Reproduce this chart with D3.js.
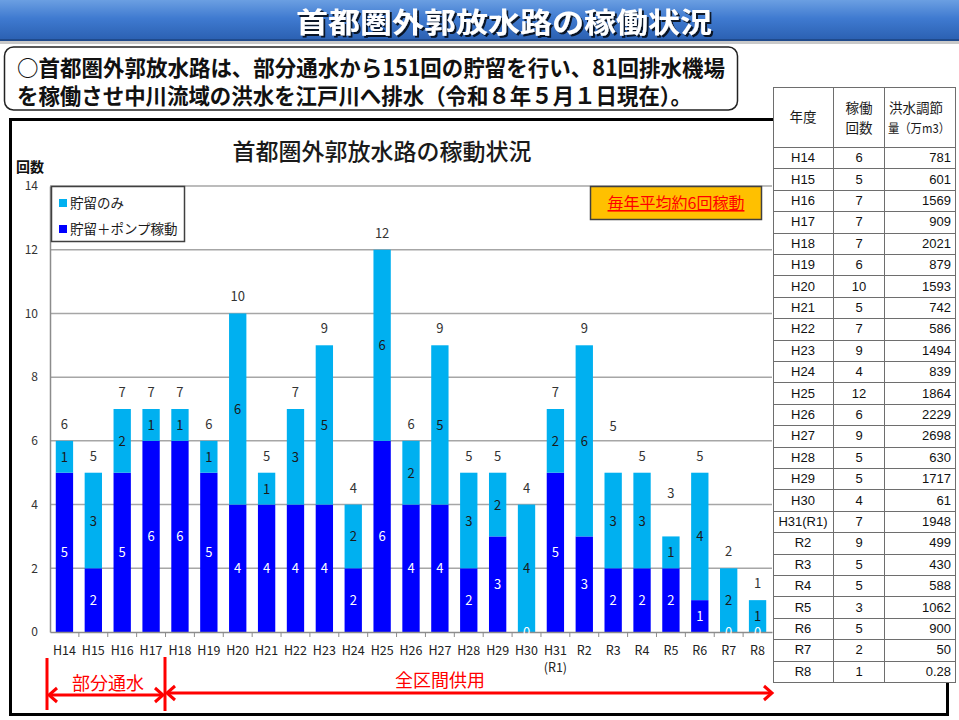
<!DOCTYPE html>
<html>
<head>
<meta charset="utf-8">
<script src="https://cdn.jsdelivr.net/npm/d3@7"></script>
<style>
  body { margin: 0; background: #fff; }
  svg { display: block; font-family: "Noto Sans CJK JP", "Noto Sans", sans-serif; }
</style>
</head>
<body>
<div id="chart"></div>
<script>
// years (x categories)
var years = ["H14", "H15", "H16", "H17", "H18", "H19", "H20", "H21", "H22", "H23", "H24", "H25",
  "H26", "H27", "H28", "H29", "H30", "H31(R1)", "R2", "R3", "R4", "R5", "R6", "R7", "R8"];
// 貯留＋ポンプ稼動
var pumpRuns = [5, 2, 5, 6, 6, 5, 4, 4, 4, 4, 2, 6, 4, 4, 2, 3, 0, 5, 3, 2, 2, 2, 1, 0, 0];
// 貯留のみ
var storageRuns = [1, 3, 2, 1, 1, 1, 6, 1, 3, 5, 2, 6, 2, 5, 3, 2, 4, 2, 6, 3, 3, 1, 4, 2, 1];
// 洪水調節量（万m3）
var floodVolume = ["781", "601", "1569", "909", "2021", "879", "1593", "742", "586", "1494", "839", "1864",
  "2229", "2698", "630", "1717", "61", "1948", "499", "430", "588", "1062", "900", "50", "0.28"];
var yTicks = [0, 2, 4, 6, 8, 10, 12, 14];

var W = 959, H = 720;
var lightBlue = "#00b0f0", darkBlue = "#0000ff", red = "#ff0000";

var svg = d3.select("#chart").append("svg")
  .attr("width", W).attr("height", H);

// ---- header bar
var defs = svg.append("defs");
var grad = defs.append("linearGradient").attr("id", "bar").attr("x1", 0).attr("y1", 0).attr("x2", 0).attr("y2", 1);
grad.append("stop").attr("offset", "0%").attr("stop-color", "#6b9fe2");
grad.append("stop").attr("offset", "45%").attr("stop-color", "#3f7ad0");
grad.append("stop").attr("offset", "100%").attr("stop-color", "#2a5fb0");
var shadow = defs.append("filter").attr("id", "shadow");
shadow.append("feDropShadow").attr("dx", 2).attr("dy", 2).attr("stdDeviation", 0.6)
  .attr("flood-color", "#000").attr("flood-opacity", 0.8);

svg.append("rect").attr("x", 0).attr("y", 38).attr("width", W).attr("height", 6).attr("fill", "#c9c9c9");
svg.append("rect").attr("x", 0).attr("y", 0).attr("width", W).attr("height", 41).attr("fill", "url(#bar)");
svg.append("rect").attr("x", 0).attr("y", 39).attr("width", W).attr("height", 2).attr("fill", "#1f4a8c");
svg.append("text").attr("x", 504).attr("y", 33)
  .attr("text-anchor", "middle").attr("fill", "#fff")
  .style("font-size", "28px").style("font-weight", 700)
  .attr("textLength", 416).attr("lengthAdjust", "spacingAndGlyphs")
  .attr("filter", "url(#shadow)")
  .text("首都圏外郭放水路の稼働状況");

// ---- summary box
svg.append("rect").attr("x", 4.5).attr("y", 47).attr("width", 733).attr("height", 63)
  .attr("rx", 9).attr("fill", "#fff").attr("stroke", "#222").attr("stroke-width", 1.5);
svg.append("text").attr("x", 17).attr("y", 76)
  .style("font-size", "22px").style("font-weight", 700).attr("fill", "#111")
  .attr("textLength", 708).attr("lengthAdjust", "spacingAndGlyphs")
  .text("○首都圏外郭放水路は、部分通水から151回の貯留を行い、81回排水機場");
svg.append("text").attr("x", 17).attr("y", 104)
  .style("font-size", "22px").style("font-weight", 700).attr("fill", "#111")
  .attr("textLength", 675).attr("lengthAdjust", "spacingAndGlyphs")
  .text("を稼働させ中川流域の洪水を江戸川へ排水（令和８年５月１日現在）。");

// ---- chart frame
svg.append("rect").attr("x", 10.5).attr("y", 119.5).attr("width", 937).attr("height", 595)
  .attr("fill", "#fff").attr("stroke", "#000").attr("stroke-width", 3);

svg.append("text").attr("x", 382).attr("y", 160).attr("text-anchor", "middle")
  .style("font-size", "23px").style("font-weight", 500).attr("fill", "#1a1a1a")
  .text("首都圏外郭放水路の稼動状況");
svg.append("text").attr("x", 16).attr("y", 172)
  .style("font-size", "14px").style("font-weight", 700).attr("fill", "#111")
  .text("回数");

var x = d3.scaleBand().domain(years).range([50, 772]).paddingInner(0.4).paddingOuter(0.2);
var y = d3.scaleLinear().domain([0, 14]).range([632, 186]);

var plot = svg.append("g");

// gridlines
plot.append("g").selectAll("line").data(yTicks.filter(function(d) { return d > 0; }))
  .enter().append("line")
  .attr("x1", 50).attr("x2", 772)
  .attr("y1", function(d) { return y(d); }).attr("y2", function(d) { return y(d); })
  .attr("stroke", "#a6a6a6").attr("stroke-width", 1.5);

// y axis
var yAxis = plot.append("g").attr("transform", "translate(50,0)")
  .call(d3.axisLeft(y).tickValues(yTicks).tickSize(0).tickPadding(12));
yAxis.select(".domain").attr("stroke", "#8c8c8c").attr("stroke-width", 1.5);
yAxis.selectAll("text").style("font-size", "12px").attr("fill", "#333")
  .style("font-family", "'Noto Sans CJK JP', sans-serif");

// stacked bars
var rows = years.map(function(yr, i) {
  return { year: yr, pump: pumpRuns[i], storage: storageRuns[i], total: pumpRuns[i] + storageRuns[i] };
});

plot.append("g").selectAll("rect.pump").data(rows).enter().append("rect")
  .attr("x", function(d) { return x(d.year); })
  .attr("width", x.bandwidth())
  .attr("y", function(d) { return y(d.pump); })
  .attr("height", function(d) { return y(0) - y(d.pump); })
  .attr("fill", darkBlue);

plot.append("g").selectAll("rect.storage").data(rows).enter().append("rect")
  .attr("x", function(d) { return x(d.year); })
  .attr("width", x.bandwidth())
  .attr("y", function(d) { return y(d.total); })
  .attr("height", function(d) { return y(d.pump) - y(d.total); })
  .attr("fill", lightBlue);

// x axis
var xAxis = plot.append("g").attr("transform", "translate(0,632)")
  .call(d3.axisBottom(x).tickSize(0).tickFormat(""));
xAxis.select(".domain").attr("stroke", "#8c8c8c").attr("stroke-width", 1.5);
xAxis.selectAll(".tick").remove();
plot.append("g").selectAll("line").data(years.slice(1)).enter().append("line")
  .attr("x1", function(d) { return x(d) - x.step() * x.paddingInner() / 2; })
  .attr("x2", function(d) { return x(d) - x.step() * x.paddingInner() / 2; })
  .attr("y1", 632).attr("y2", 637)
  .attr("stroke", "#8c8c8c").attr("stroke-width", 1);

var xl = plot.append("g").selectAll("text").data(years).enter().append("text")
  .attr("x", function(d) { return x(d) + x.bandwidth() / 2; })
  .attr("y", 655)
  .attr("text-anchor", "middle")
  .style("font-size", "12.5px").attr("fill", "#222");
xl.each(function(d) {
  var t = d3.select(this);
  var parts = d.split("(");
  t.append("tspan").attr("x", t.attr("x")).text(parts[0]);
  if (parts.length > 1) t.append("tspan").attr("x", t.attr("x")).attr("dy", 17).text("(" + parts[1]);
});

// value labels
var labels = plot.append("g").style("font-size", "13px").attr("text-anchor", "middle");
labels.selectAll("text.p").data(rows).enter().append("text")
  .attr("x", function(d) { return x(d.year) + x.bandwidth() / 2; })
  .attr("y", function(d) { return y(d.pump / 2) + 5; })
  .attr("fill", "#fff")
  .text(function(d) { return d.pump; });
labels.selectAll("text.s").data(rows).enter().append("text")
  .attr("x", function(d) { return x(d.year) + x.bandwidth() / 2; })
  .attr("y", function(d) { return y(d.pump + d.storage / 2) + 5; })
  .attr("fill", "#1a1a1a")
  .text(function(d) { return d.storage; });
// a few totals sit higher to clear neighbouring labels
var totalLift = { "R3": 30, "R5": 26 };
labels.selectAll("text.t").data(rows).enter().append("text")
  .attr("x", function(d) { return x(d.year) + x.bandwidth() / 2; })
  .attr("y", function(d) { return y(d.total) - 12 - (totalLift[d.year] || 0); })
  .attr("fill", "#333")
  .text(function(d) { return d.total; });

// legend
var lg = svg.append("g");
lg.append("rect").attr("x", 51.5).attr("y", 186.5).attr("width", 133).attr("height", 55)
  .attr("fill", "#fff").attr("stroke", "#404040").attr("stroke-width", 1.5);
[["貯留のみ", lightBlue, 203], ["貯留＋ポンプ稼動", darkBlue, 229]].forEach(function(it) {
  lg.append("rect").attr("x", 59).attr("y", it[2] - 4).attr("width", 8).attr("height", 8).attr("fill", it[1]);
  lg.append("text").attr("x", 70).attr("y", it[2] + 5).style("font-size", "13.5px").attr("fill", "#1a1a1a").text(it[0]);
});

// annotation
svg.append("rect").attr("x", 590.5).attr("y", 186.5).attr("width", 171).attr("height", 33)
  .attr("fill", "#ffc000").attr("stroke", "#404040").attr("stroke-width", 1.5);
svg.append("text").attr("x", 676).attr("y", 209).attr("text-anchor", "middle")
  .style("font-size", "16px").attr("fill", red).style("text-decoration", "underline")
  .text("毎年平均約6回稼動");

// period arrows
var ar = svg.append("g").attr("stroke", red).attr("stroke-width", 3).attr("fill", "none");
var xL = 47, xM = 165, xR = 774;
ar.append("line").attr("x1", xL).attr("x2", xL).attr("y1", 658).attr("y2", 710);
ar.append("line").attr("x1", xM).attr("x2", xM).attr("y1", 657).attr("y2", 711);
ar.append("line").attr("x1", xL + 2).attr("x2", xM - 2).attr("y1", 695).attr("y2", 695);
ar.append("path").attr("d", "M" + (xL + 10) + ",688 L" + (xL + 2) + ",695 L" + (xL + 10) + ",702");
ar.append("path").attr("d", "M" + (xM - 10) + ",688 L" + (xM - 2) + ",695 L" + (xM - 10) + ",702");
ar.append("line").attr("x1", xM + 2).attr("x2", xR - 2).attr("y1", 693).attr("y2", 693);
ar.append("path").attr("d", "M" + (xM + 10) + ",686 L" + (xM + 2) + ",693 L" + (xM + 10) + ",700");
ar.append("path").attr("d", "M" + (xR - 10) + ",686 L" + (xR - 2) + ",693 L" + (xR - 10) + ",700");
svg.append("text").attr("x", 108).attr("y", 690).attr("text-anchor", "middle")
  .style("font-size", "18px").attr("fill", red).text("部分通水");
svg.append("text").attr("x", 440).attr("y", 687).attr("text-anchor", "middle")
  .style("font-size", "18px").attr("fill", red).text("全区間供用");

// ---- table
var tb = svg.append("g");
var cols = [773, 833, 884, 955];
var tTop = 87, headH = 60, rowH = 21.4;
var tBottom = tTop + headH + rowH * years.length;
tb.append("rect").attr("x", cols[0]).attr("y", tTop).attr("width", cols[3] - cols[0]).attr("height", tBottom - tTop)
  .attr("fill", "#fff");
var gridC = "#6e6e6e";
cols.forEach(function(c) {
  tb.append("line").attr("x1", c + 0.5).attr("x2", c + 0.5).attr("y1", tTop).attr("y2", tBottom)
    .attr("stroke", gridC).attr("stroke-width", 1);
});
d3.range(years.length + 2).forEach(function(i) {
  var yy = i === 0 ? tTop : tTop + headH + rowH * (i - 1);
  tb.append("line").attr("x1", cols[0]).attr("x2", cols[3] + 1).attr("y1", Math.round(yy) + 0.5).attr("y2", Math.round(yy) + 0.5)
    .attr("stroke", gridC).attr("stroke-width", 1);
});
var head = tb.append("g").style("font-size", "13.5px").attr("fill", "#1a1a1a");
head.append("text").attr("x", 803).attr("y", 122).attr("text-anchor", "middle").text("年度");
head.append("text").attr("x", 859).attr("y", 113).attr("text-anchor", "middle").text("稼働");
head.append("text").attr("x", 859).attr("y", 133).attr("text-anchor", "middle").text("回数");
head.append("text").attr("x", 889).attr("y", 113).text("洪水調節");
head.append("text").attr("x", 888).attr("y", 133).style("font-size", "12.5px")
  .attr("textLength", 62).attr("lengthAdjust", "spacingAndGlyphs").text("量（万m3）");

var body = tb.append("g").style("font-size", "13px").attr("fill", "#111")
  .style("font-family", "'Liberation Sans', Arial, sans-serif");
years.forEach(function(yr, i) {
  var cy = tTop + headH + rowH * i + rowH / 2 + 4.5;
  body.append("text").attr("x", 803).attr("y", cy).attr("text-anchor", "middle").text(yr);
  body.append("text").attr("x", 859).attr("y", cy).attr("text-anchor", "middle").text(pumpRuns[i] + storageRuns[i]);
  body.append("text").attr("x", 951).attr("y", cy).attr("text-anchor", "end").text(floodVolume[i]);
});
</script>
</body>
</html>
